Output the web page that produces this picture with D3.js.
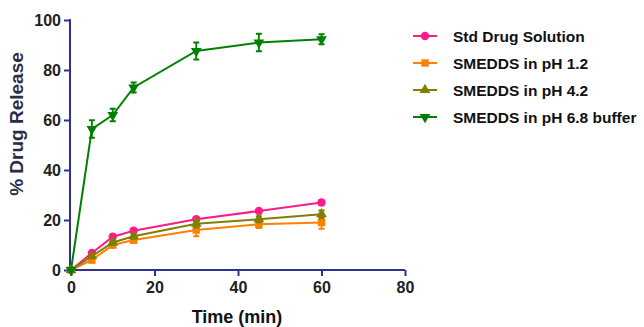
<!DOCTYPE html>
<html>
<head>
<meta charset="utf-8">
<script src="https://cdn.jsdelivr.net/npm/d3@7"></script>
<style>
  body { margin: 0; background: #fff; }
  svg { display: block; }
  .axis text { font-family: "Liberation Sans", Arial, sans-serif; font-weight: bold; font-size: 16px; fill: #222; }
  .axis path, .axis line { stroke: #2e3192; stroke-width: 2; }
</style>
</head>
<body>
<svg width="644" height="327"></svg>
<script>
var times = [0, 5, 10, 15, 30, 45, 60];
var seriesNames = ["Std Drug Solution", "SMEDDS in pH 1.2", "SMEDDS in pH 4.2", "SMEDDS in pH 6.8 buffer"];
var stdDrug = [0, 6.8, 13.3, 15.7, 20.3, 23.6, 27];
var stdDrugErr = [0, 0.5, 0.8, 0.8, 0.8, 0.8, 0.8];
var ph12 = [0, 4, 10, 12, 16, 18.3, 19];
var ph12Err = [0, 1, 1, 1.2, 2.5, 1.5, 2.5];
var ph42 = [0, 5.5, 11, 13.5, 18.5, 20.3, 22.3];
var ph42Err = [0, 0.8, 1, 1, 1.5, 1.2, 1.5];
var ph68 = [0, 56.4, 62, 73, 87.6, 91, 92.3];
var ph68Err = [0, 3.5, 2.5, 2, 3.4, 3.5, 2];
var xTicks = [0, 20, 40, 60, 80];
var yTicks = [0, 20, 40, 60, 80, 100];

var colors = ["#ff1a8c", "#ff8000", "#808000", "#008000"];
var symbols = [d3.symbolCircle, d3.symbolSquare, d3.symbolTriangle, d3.symbolTriangle];
var symSize = [55, 55, 50, 50];
var rotate = [0, 0, 0, 180];

var series = [
  { name: seriesNames[0], values: stdDrug, err: stdDrugErr },
  { name: seriesNames[1], values: ph12, err: ph12Err },
  { name: seriesNames[2], values: ph42, err: ph42Err },
  { name: seriesNames[3], values: ph68, err: ph68Err }
];

var svg = d3.select("svg");

var xScale = d3.scaleLinear().domain([0, 80]).range([71, 405]);
var yScale = d3.scaleLinear().domain([0, 100]).range([270, 20]);

// axes
svg.append("g")
  .attr("class", "axis")
  .attr("transform", "translate(0,270)")
  .call(d3.axisBottom(xScale).tickValues(xTicks).tickSize(6).tickSizeOuter(0).tickPadding(6))
  .call(g => g.select(".domain").attr("d", "M70,0H405"));

svg.append("g")
  .attr("class", "axis")
  .attr("transform", "translate(70,0)")
  .call(d3.axisLeft(yScale).tickValues(yTicks).tickSize(6).tickSizeOuter(0).tickPadding(3))
  .call(g => g.select(".domain").attr("d", "M0,19V271"));

// axis titles
svg.append("text")
  .attr("x", 237).attr("y", 323)
  .attr("text-anchor", "middle")
  .style("font-family", "Liberation Sans, Arial, sans-serif")
  .style("font-weight", "bold").style("font-size", "18px")
  .style("fill", "#111")
  .text("Time (min)");

svg.append("text")
  .attr("transform", "translate(23,124) rotate(-90)")
  .attr("text-anchor", "middle")
  .style("font-family", "Liberation Sans, Arial, sans-serif")
  .style("font-weight", "bold").style("font-size", "19px")
  .style("fill", "#2b2b4a")
  .text("% Drug Release");

var line = d3.line()
  .x((d, i) => xScale(times[i]))
  .y(d => yScale(d));

series.forEach(function (s, k) {
  var g = svg.append("g");
  g.append("path")
    .attr("d", line(s.values))
    .attr("fill", "none")
    .attr("stroke", colors[k])
    .attr("stroke-width", 2);

  // error bars
  g.selectAll(".err")
    .data(s.values.map((v, i) => ({ t: times[i], v: v, e: s.err[i] })).filter(d => d.e > 0))
    .enter().append("path")
    .attr("d", d => {
      var x = xScale(d.t), y1 = yScale(d.v + d.e), y2 = yScale(d.v - d.e);
      return "M" + (x - 3) + "," + y1 + "H" + (x + 3) + "M" + x + "," + y1 + "V" + y2 + "M" + (x - 3) + "," + y2 + "H" + (x + 3);
    })
    .attr("fill", "none")
    .attr("stroke", colors[k])
    .attr("stroke-width", 1.8);

  g.selectAll(".pt")
    .data(s.values)
    .enter().append("path")
    .attr("d", d3.symbol().type(symbols[k]).size(symSize[k]))
    .attr("transform", (d, i) => "translate(" + xScale(times[i]) + "," + yScale(d) + ") rotate(" + rotate[k] + ")")
    .attr("fill", colors[k]);
});

// legend
var legend = svg.append("g");
var legendY = [36, 63, 90, 117];
series.forEach(function (s, k) {
  var y = legendY[k];
  legend.append("line")
    .attr("x1", 413).attr("x2", 437)
    .attr("y1", y).attr("y2", y)
    .attr("stroke", colors[k]).attr("stroke-width", 2);
  legend.append("path")
    .attr("d", d3.symbol().type(symbols[k]).size(symSize[k]))
    .attr("transform", "translate(425," + y + ") rotate(" + rotate[k] + ")")
    .attr("fill", colors[k]);
  legend.append("text")
    .attr("x", 453).attr("y", y + 6)
    .style("font-family", "Liberation Sans, Arial, sans-serif")
    .style("font-weight", "bold").style("font-size", "15.5px")
    .style("fill", "#111")
    .text(s.name);
});
</script>
</body>
</html>
